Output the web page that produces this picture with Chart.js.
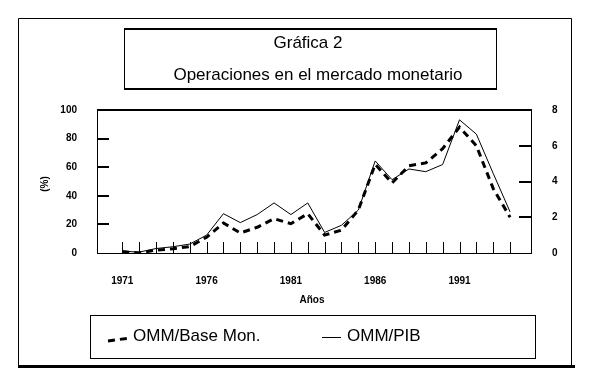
<!DOCTYPE html>
<html>
<head>
<meta charset="utf-8">
<script src="https://cdn.jsdelivr.net/npm/chart.js@4.4.1/dist/chart.umd.min.js"></script>
<style>
  body { margin: 0; background: #fff; }
  #wrap { width: 601px; height: 386px; }
</style>
</head>
<body>
<div id="wrap"><canvas id="grafica" width="601" height="386"></canvas></div>
<script>
// Años de la serie
const anios = [1971, 1972, 1973, 1974, 1975, 1976, 1977, 1978, 1979, 1980, 1981, 1982,
               1983, 1984, 1985, 1986, 1987, 1988, 1989, 1990, 1991, 1992, 1993, 1994];
// OMM / Base monetaria (%), eje izquierdo
const ommBase = [1, 0, 2, 3, 4.5, 11, 21, 14, 18, 24, 20.5, 27.5,
                 12.5, 16, 30, 62, 49, 61, 63, 73, 88, 75, 45, 25];
// OMM / PIB, eje derecho
const ommPib = [0.1, 0.05, 0.25, 0.35, 0.5, 1.0, 2.2, 1.7, 2.15, 2.8, 2.15, 2.8,
                1.15, 1.55, 2.4, 5.15, 4.1, 4.7, 4.55, 4.95, 7.45, 6.65, 4.45, 2.3];
const etiquetasX = [1971, 1976, 1981, 1986, 1991];
const ticksIzq = [20, 40, 60, 80];
const ticksDer = [2, 4, 6];

const FUENTE = '"Liberation Sans", Arial, sans-serif';
Chart.defaults.font.family = FUENTE;
Chart.defaults.color = '#000';

const marcos = {
    id: 'marcos',
    afterDraw(chart) {
        const ctx = chart.ctx;
        const a = chart.chartArea;
        const sx = chart.scales.x, sy = chart.scales.y, sy1 = chart.scales.y1;
        ctx.save();
        ctx.strokeStyle = '#000';
        ctx.fillStyle = '#000';

        // marco exterior
        ctx.lineWidth = 1;
        ctx.beginPath();
        ctx.moveTo(18.5, 366); ctx.lineTo(18.5, 18.5); ctx.lineTo(571.5, 18.5); ctx.lineTo(571.5, 366);
        ctx.stroke();
        ctx.lineWidth = 3;
        ctx.beginPath(); ctx.moveTo(18, 366.5); ctx.lineTo(575, 366.5); ctx.stroke();

        // caja del título
        ctx.lineWidth = 1;
        ctx.strokeRect(124.5, 29.5, 372, 59);
        ctx.lineWidth = 2;
        ctx.beginPath(); ctx.moveTo(124, 29); ctx.lineTo(497, 29); ctx.stroke();
        ctx.beginPath(); ctx.moveTo(124, 89); ctx.lineTo(497, 89); ctx.stroke();
        ctx.font = '17px ' + FUENTE;
        ctx.textAlign = 'center';
        ctx.textBaseline = 'middle';
        ctx.fillText('Gráfica 2', 308, 43);
        ctx.fillText('Operaciones en el mercado monetario', 318, 75);

        // recuadro del área de trazado
        ctx.lineWidth = 1;
        ctx.strokeRect(a.left + 0.5, a.top + 0.5, a.right - a.left - 1, a.bottom - a.top);
        ctx.lineWidth = 2;
        ctx.beginPath(); ctx.moveTo(a.left, a.top); ctx.lineTo(a.right, a.top); ctx.stroke();

        // marcas interiores
        ctx.lineWidth = 1;
        ctx.beginPath();
        anios.forEach(v => {
            const x = Math.round(sx.getPixelForValue(v)) + 0.5;
            ctx.moveTo(x, a.bottom); ctx.lineTo(x, a.bottom - 11);
        });
        ctx.stroke();
        ctx.lineWidth = 2;
        ctx.beginPath();
        ticksIzq.forEach(v => {
            const y = Math.round(sy.getPixelForValue(v));
            ctx.moveTo(a.left, y); ctx.lineTo(a.left + 12, y);
        });
        ticksDer.forEach(v => {
            const y = Math.round(sy1.getPixelForValue(v));
            ctx.moveTo(a.right, y); ctx.lineTo(a.right - 13, y);
        });
        ctx.stroke();

        // títulos de ejes
        ctx.font = 'bold 10px ' + FUENTE;
        ctx.fillText('Años', 312, 300);
        ctx.save();
        ctx.translate(45, 184);
        ctx.rotate(-Math.PI / 2);
        ctx.fillText('(%)', 0, 0);
        ctx.restore();

        // leyenda
        ctx.lineWidth = 1;
        ctx.strokeRect(90.5, 315.5, 445, 43);
        const d0 = chart.data.datasets[0], d1 = chart.data.datasets[1];
        ctx.lineWidth = d0.borderWidth;
        ctx.setLineDash(d0.borderDash);
        ctx.beginPath(); ctx.moveTo(108, 341); ctx.lineTo(130, 338); ctx.stroke();
        ctx.setLineDash([]);
        ctx.lineWidth = d1.borderWidth;
        ctx.beginPath(); ctx.moveTo(322, 337.5); ctx.lineTo(341, 337.5); ctx.stroke();
        ctx.font = '17px ' + FUENTE;
        ctx.textAlign = 'left';
        ctx.fillText(d0.label, 133, 336);
        ctx.fillText(d1.label, 347, 336);
        ctx.restore();
    }
};

new Chart(document.getElementById('grafica'), {
    type: 'line',
    data: {
        labels: anios,
        datasets: [
            { label: 'OMM/Base Mon.', data: ommBase, yAxisID: 'y', borderColor: '#000',
              borderWidth: 3, borderDash: [7, 5], pointRadius: 0, tension: 0 },
            { label: 'OMM/PIB', data: ommPib, yAxisID: 'y1', borderColor: '#000',
              borderWidth: 1, pointRadius: 0, tension: 0 }
        ]
    },
    options: {
        responsive: false,
        animation: false,
        layout: { padding: { top: 110, left: 0, right: 0, bottom: 0 } },
        plugins: { legend: { display: false }, tooltip: { enabled: false } },
        scales: {
            x: {
                type: 'linear', min: 1969.5, max: 1995.3,
                afterBuildTicks: s => { s.ticks = etiquetasX.map(v => ({ value: v })); },
                afterFit: s => { s.height = 133; },
                grid: { display: false }, border: { display: false },
                ticks: { font: { size: 10, weight: 'bold' }, padding: 14, maxRotation: 0,
                         callback: v => String(v) }
            },
            y: {
                position: 'left', min: 0, max: 100,
                afterFit: s => { s.width = 97; },
                grid: { display: false }, border: { display: false },
                ticks: { stepSize: 20, font: { size: 10, weight: 'bold' }, padding: 12 }
            },
            y1: {
                position: 'right', min: 0, max: 8,
                afterFit: s => { s.width = 69; },
                grid: { display: false }, border: { display: false },
                ticks: { stepSize: 2, font: { size: 10, weight: 'bold' }, padding: 12 }
            }
        }
    },
    plugins: [marcos]
});
</script>
</body>
</html>
